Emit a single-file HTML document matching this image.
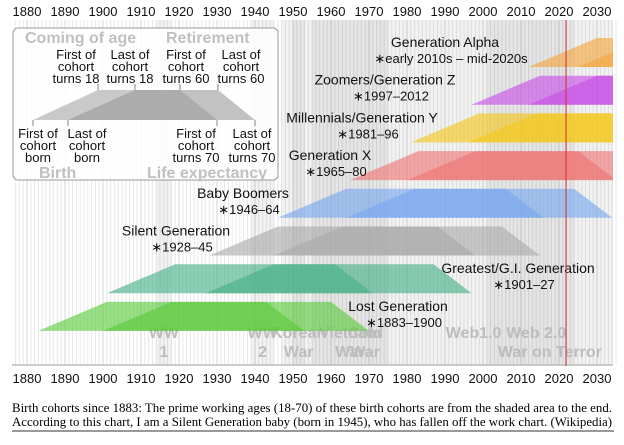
<!DOCTYPE html>
<html><head><meta charset="utf-8"><style>
body{margin:0;background:#fff;}
svg text{font-family:"Liberation Sans",sans-serif;}
</style></head><body>
<svg id="c" width="624" height="440" xmlns="http://www.w3.org/2000/svg">
<g id="bg"></g>
<g id="legend">
 <rect x="13" y="28" width="265" height="152" rx="5" fill="#fff" fill-opacity="0.85" stroke="#999" stroke-width="1"/>
 <polygon points="33,120 98,90 180,90 217,120" fill="#bbb" opacity="0.8"/>
 <polygon points="68,120 135,90 218,90 255,120" fill="#999" opacity="0.6"/>
 <g stroke="#666" stroke-width="0.8">
  <line x1="98" y1="84" x2="98" y2="90"/><line x1="135" y1="84" x2="135" y2="90"/>
  <line x1="180" y1="84" x2="180" y2="90"/><line x1="218" y1="84" x2="218" y2="90"/>
  <line x1="33" y1="120" x2="33" y2="126"/><line x1="68" y1="120" x2="68" y2="126"/>
  <line x1="217" y1="120" x2="217" y2="126"/><line x1="255" y1="120" x2="255" y2="126"/>
 </g>
 <g font-size="16" font-weight="bold" fill="#c0c0c0">
  <text x="25" y="43">Coming of age</text><text x="166" y="43">Retirement</text>
  <text x="39" y="178">Birth</text><text x="147" y="178">Life expectancy</text>
 </g>
 <g font-size="13" fill="#111" text-anchor="middle">
  <text x="76" y="59">First of</text><text x="76" y="71">cohort</text><text x="76" y="83">turns 18</text>
  <text x="130" y="59">Last of</text><text x="130" y="71">cohort</text><text x="130" y="83">turns 18</text>
  <text x="186" y="59">First of</text><text x="186" y="71">cohort</text><text x="186" y="83">turns 60</text>
  <text x="241" y="59">Last of</text><text x="241" y="71">cohort</text><text x="241" y="83">turns 60</text>
  <text x="38" y="138">First of</text><text x="38" y="150">cohort</text><text x="38" y="162">born</text>
  <text x="87" y="138">Last of</text><text x="87" y="150">cohort</text><text x="87" y="162">born</text>
  <text x="196" y="138">First of</text><text x="196" y="150">cohort</text><text x="196" y="162">turns 70</text>
  <text x="252" y="138">Last of</text><text x="252" y="150">cohort</text><text x="252" y="162">turns 70</text>
 </g>
</g>
<g id="ev" font-size="16" font-weight="bold" fill="#bdbdbd" text-anchor="middle"></g>
<g id="gens"></g>
<g id="axes"></g>
<line x1="566" y1="20" x2="566" y2="366" stroke="#d03030" stroke-width="1"/>
<g>
 <text x="12" y="412" font-size="12.5" textLength="600" lengthAdjust="spacingAndGlyphs" style="font-family:'Liberation Serif',serif">Birth cohorts since 1883: The prime working ages (18-70) of these birth cohorts are from the shaded area to the end.</text>
 <text x="12" y="426" font-size="12.5" textLength="600" lengthAdjust="spacingAndGlyphs" style="font-family:'Liberation Serif',serif">According to this chart, I am a Silent Generation baby (born in 1945), who has fallen off the work chart. (Wikipedia)</text>
 <line x1="12" y1="431" x2="614" y2="431" stroke="#333" stroke-width="1"/>
</g>
</svg>
<script>
const genNames=["Generation Alpha","Zoomers/Generation Z","Millennials/Generation Y","Generation X","Baby Boomers","Silent Generation","Greatest/G.I. Generation","Lost Generation"];
const genRanges=["∗early 2010s – mid-2020s","∗1997–2012","∗1981–96","∗1965–80","∗1946–64","∗1928–45","∗1901–27","∗1883–1900"];
const firstBorn=[2012,1997,1981,1965,1946,1928,1901,1883];
const lastBorn=[2025,2012,1996,1980,1964,1945,1927,1900];
const genColors=["#f3a53c","#c84ee6","#f3c61c","#ef7575","#78a6ef","#a9a9a9","#45b088","#58c93a"];
const labelX=[445,385,362,330,243,176,518,398];
const tickYears=[1880,1890,1900,1910,1920,1930,1940,1950,1960,1970,1980,1990,2000,2010,2020,2030];
const eventNames=[["WW","1"],["WW","2"],["Korean","War"],["Vietnam","War"],["Cold","War"],["Web1.0",""],["Web 2.0",""],["","War on Terror"]];
const eventStart=[1914,1939,1950,1955,1947,1991,2004,2001];
const eventEnd=[1918,1945,1953,1975,1991,2004,2024,2035];
const NS="http://www.w3.org/2000/svg";
const x=y=>27+(y-1880)*3.8;
const rowTop=i=>38+i*37.7;
const H=29, X0=12, X1=613, Y0=20, Y1=365;
function mk(t,a,p){const e=document.createElementNS(NS,t);for(const k in a)e.setAttribute(k,a[k]);p.appendChild(e);return e;}
const bg=document.getElementById('bg');
for(let yr=1877;yr<=2035;yr++){const l=mk('line',{x1:x(yr),x2:x(yr),y1:Y0,y2:Y1,stroke:yr%10===0?'#d4d4d4':'#e8e8e8','stroke-width':1},bg);

}
const ev=document.getElementById('ev');
eventStart.forEach((s,i)=>{
 const r=mk('rect',{x:x(s),y:Y0,width:Math.min(x(eventEnd[i]),X1)-x(s),height:Y1-Y0,fill:'#000','fill-opacity':0.05},bg);
 
 
 const cx=(x(s)+Math.min(x(eventEnd[i]),X1))/2;
 const t1=mk('text',{x:cx,y:338},ev);t1.textContent=eventNames[i][0];
 
 
 const t2=mk('text',{x:cx,y:357},ev);t2.textContent=eventNames[i][1];
 
 
});
const g=document.getElementById('gens');
const cp=mk('clipPath',{id:'cl'},g);mk('rect',{x:X0,y:0,width:X1-X0,height:440},cp);
const gg=mk('g',{'clip-path':'url(#cl)'},g);
for(let i=genNames.length-1;i>=0;i--){
 const t=rowTop(i),b=t+H;
 [firstBorn[i],lastBorn[i]].forEach(f=>{
  const p=mk('polygon',{points:`${x(f)},${b} ${x(f+18)},${t} ${x(f+60)},${t} ${x(f+70)},${b}`,fill:genColors[i],opacity:0.62},gg);
  
  
 });
 const a=mk('text',{x:labelX[i],y:t+9,'font-size':14,'text-anchor':'middle',fill:'#111'},g);a.textContent=genNames[i];
 
 
 const c=mk('text',{x:labelX[i]+6,y:t+25,'font-size':13,'text-anchor':'middle',fill:'#111'},g);c.textContent=genRanges[i];
 
 
}
const ax=document.getElementById('axes');
const al=mk('line',{x1:X0,x2:X1,y1:Y1,y2:Y1,stroke:'#bbb','stroke-width':1.5},ax);


tickYears.forEach(yr=>{[16,383].forEach(yy=>{
 const t=mk('text',{x:x(yr),y:yy,'font-size':13,'text-anchor':'middle',fill:'#111'},ax);t.textContent=yr;
 
 
});});
</script>
</body></html>
